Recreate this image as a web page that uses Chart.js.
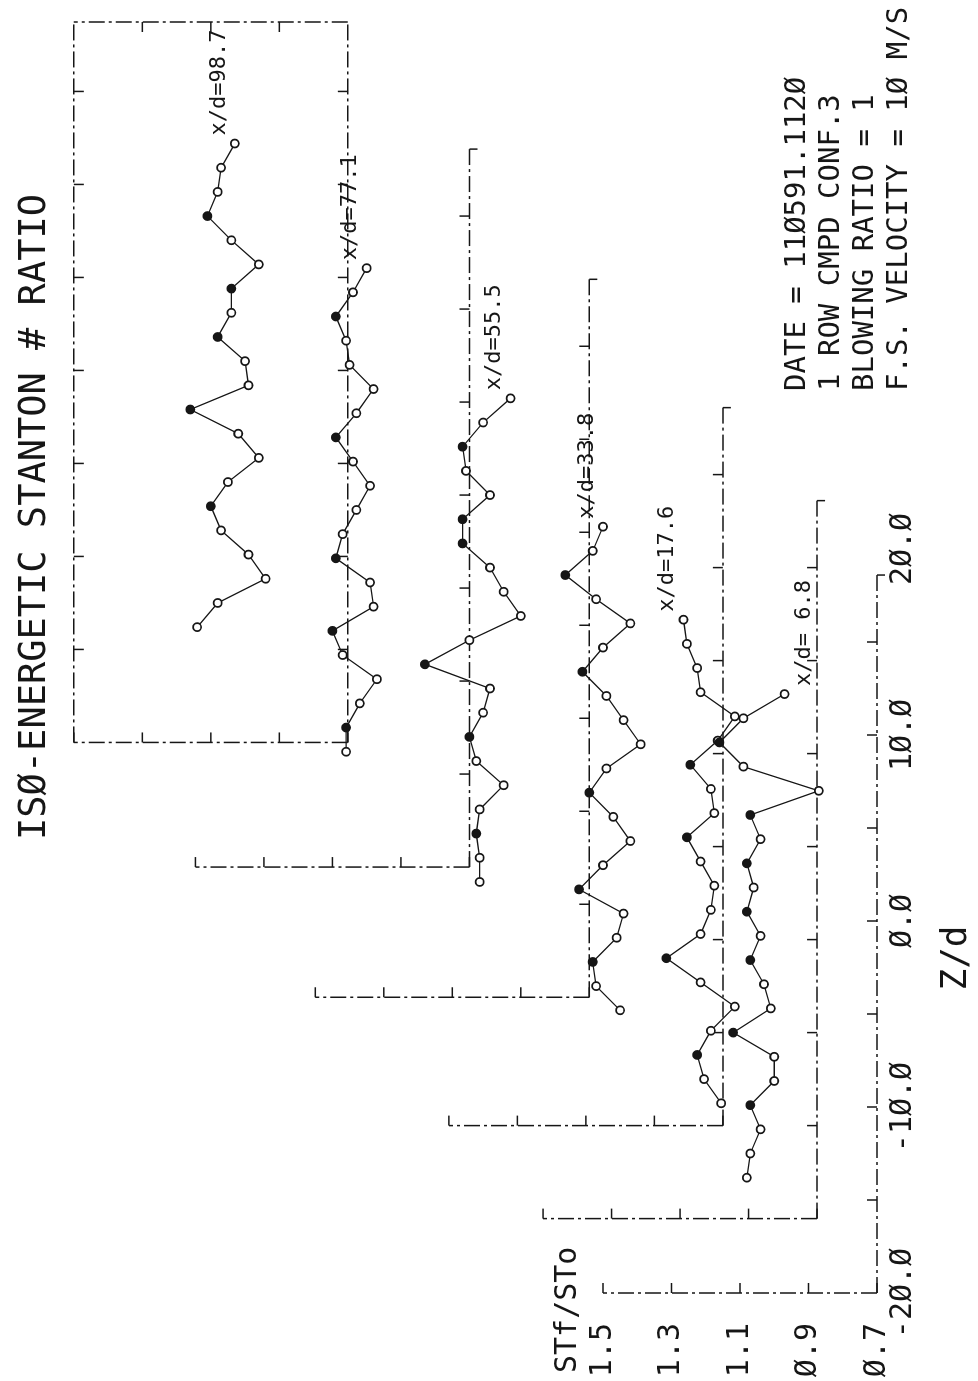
<!DOCTYPE html>
<html>
<head>
<meta charset="utf-8">
<title>Iso-energetic Stanton number ratio</title>
<script src="https://cdn.jsdelivr.net/npm/chart.js@4.4.1/dist/chart.umd.min.js"></script>
<style>
    html, body { margin: 0; padding: 0; background: #fff; }
    #page { position: relative; width: 978px; height: 1381px; overflow: hidden; }
    /* the plot is drawn the normal way and turned a quarter turn, like the plotter sheet */
    #rot { position: absolute; left: 0; top: 0; width: 1381px; height: 978px;
           transform-origin: 0 0; transform: translate(0, 1381px) rotate(-90deg); }
</style>
</head>
<body>
<div id="page"><div id="rot"><canvas id="chart" width="1381" height="978"></canvas></div></div>
<script>
// spanwise stations, Z/d (same for every x/d station)
const Z_D = [-13.8, -12.5, -11.2, -9.9, -8.6, -7.3, -6.0, -4.7, -3.4, -2.1, -0.8,
             0.5, 1.8, 3.1, 4.4, 5.7, 7.0, 8.3, 9.6, 10.9, 12.2];

const XD_LABELS = ["x/d= 6.8", "x/d=17.6", "x/d=33.8", "x/d=55.5", "x/d=77.1", "x/d=98.7"];

// STf/STo at each Z/d
const ST_6_8  = [1.08, 1.07, 1.04, 1.07, 1.00, 1.00, 1.12, 1.01, 1.03, 1.07, 1.04,
                 1.08, 1.06, 1.08, 1.04, 1.07, 0.87, 1.09, 1.16, 1.09, 0.97];
const ST_17_6 = [0.98, 1.03, 1.05, 1.01, 0.94, 1.04, 1.14, 1.04, 1.01, 1.00, 1.04,
                 1.08, 1.00, 1.01, 1.07, 0.99, 0.94, 1.04, 1.05, 1.08, 1.09];
const ST_33_8 = [1.00, 1.07, 1.08, 1.01, 0.99, 1.12, 1.05, 0.97, 1.02, 1.09, 1.04,
                 0.94, 0.99, 1.04, 1.11, 1.05, 0.97, 1.07, 1.16, 1.08, 1.05];
const ST_55_5 = [1.02, 1.02, 1.03, 1.02, 0.95, 1.03, 1.05, 1.01, 0.99, 1.18, 1.05,
                 0.90, 0.95, 0.99, 1.07, 1.07, 0.99, 1.06, 1.07, 1.01, 0.93];
const ST_77_1 = [1.06, 1.06, 1.02, 0.97, 1.07, 1.10, 0.98, 0.99, 1.09, 1.07, 1.03,
                 0.99, 1.04, 1.09, 1.03, 0.98, 1.05, 1.06, 1.09, 1.04, 1.00];
const ST_98_7 = [1.14, 1.08, 0.94, 0.99, 1.07, 1.10, 1.05, 0.96, 1.02, 1.16, 0.99,
                 1.00, 1.08, 1.04, 1.04, 0.96, 1.04, 1.11, 1.08, 1.07, 1.03];

const Z_TICKS = [-20, -10, 0, 10, 20];
const ST_TICKS = [0.7, 0.9, 1.1, 1.3, 1.5];

const TITLE = "ISØ-ENERGETIC STANTON # RATIO";
const INFO_LINES = ["DATE = 11Ø591.112Ø", "1 ROW CMPD CONF.3", "BLOWING RATIO = 1", "F.S. VELOCITY = 1Ø M/S"];

// layout: how far each station's axes are shifted (waterfall), in axis units
const SHIFT_Z = [0, 4.0, 9.0, 15.9, 22.9, 29.6];
const SHIFT_S = [0, 0.175, 0.45, 0.84, 1.19, 1.545];
const LABEL_BELOW = [true, false, false, false, false, false];
const FRAME_Z_END = 18.6;   // where each Z/d axis line stops

const W = 1381, H = 978, LEFT = 88, BOTTOM = 877;
const PX_Z = 18.6, PX_S = 342.5;
const FONT = '"DejaVu Sans Mono", monospace';
const INK = "#161616";

function slashZero(s) { return s.replace(/0/g, "Ø"); }

function isPeak(arr, i) {
    if (i <= 0 || i >= arr.length - 1) return false;
    return arr[i] >= arr[i - 1] && arr[i] >= arr[i + 1];
}

const series = [ST_6_8, ST_17_6, ST_33_8, ST_55_5, ST_77_1, ST_98_7];

const datasets = series.map((st, k) => ({
    label: XD_LABELS[k],
    data: Z_D.map((z, i) => ({ x: z + SHIFT_Z[k], y: st[i] + SHIFT_S[k] })),
    borderColor: INK,
    borderWidth: 1.3,
    tension: 0,
    pointRadius: 4,
    pointBorderWidth: 1.8,
    pointBorderColor: INK,
    pointBackgroundColor: (c) => isPeak(st, c.dataIndex) ? INK : "#fff"
}));

function seg(ctx, x1, y1, x2, y2) {
    ctx.beginPath();
    ctx.moveTo(x1, y1);
    ctx.lineTo(x2, y2);
    ctx.stroke();
}

// the staggered axis frames, one per station
const framePlugin = {
    id: "frames",
    beforeDatasetsDraw(chart) {
        const ctx = chart.ctx, x = chart.scales.x, y = chart.scales.y;
        const last = SHIFT_Z.length - 1;
        const xr = W - 22; // top edge of the closing box
        ctx.save();
        ctx.strokeStyle = INK;
        ctx.lineWidth = 1.5;
        SHIFT_Z.forEach((dz, k) => {
            const ds = SHIFT_S[k];
            const x0 = x.getPixelForValue(-20 + dz);
            let x1 = x.getPixelForValue(FRAME_Z_END + dz);
            if (k === last) x1 = Math.min(x1, xr);
            const y0 = y.getPixelForValue(0.7 + ds), y1 = y.getPixelForValue(1.5 + ds);
            ctx.setLineDash([16, 4, 3, 4]);
            seg(ctx, x0, y0, x0, y1);
            seg(ctx, x0, y0, x1, y0);
            ctx.setLineDash([]);
            ST_TICKS.forEach(s => {
                const py = y.getPixelForValue(s + ds);
                seg(ctx, x0, py, x0 + 10, py);
            });
            for (let z = -15; z < FRAME_Z_END; z += 5) {
                const px = x.getPixelForValue(z + dz);
                if (px <= x1) seg(ctx, px, y0, px, y0 - 10);
            }
            if (k !== last) seg(ctx, x1, y0, x1, y0 + 8);
        });
        // closing box of the last (farthest) station
        const xl = x.getPixelForValue(-20 + SHIFT_Z[last]);
        const ylo = y.getPixelForValue(0.7 + SHIFT_S[last]), yhi = y.getPixelForValue(1.5 + SHIFT_S[last]);
        ctx.setLineDash([16, 4, 3, 4]);
        seg(ctx, xl, yhi, xr, yhi);
        seg(ctx, xr, ylo, xr, yhi);
        ctx.setLineDash([]);
        [0.9, 1.1, 1.3].forEach(s => {
            const py = y.getPixelForValue(s + SHIFT_S[last]);
            seg(ctx, xr, py, xr - 10, py);
        });
        for (let z = -15; z <= 15; z += 5) {
            const px = x.getPixelForValue(z + SHIFT_Z[last]);
            seg(ctx, px, yhi, px, yhi + 10);
        }
        ctx.restore();
    },
    afterDraw(chart) {
        const ctx = chart.ctx, x = chart.scales.x, y = chart.scales.y;
        ctx.save();
        ctx.fillStyle = INK;
        ctx.textBaseline = "middle";
        ctx.textAlign = "left";

        ctx.font = "37px " + FONT;
        ctx.fillText(TITLE, 541, 35);

        ctx.font = "29px " + FONT;
        const infoY = [797, 831, 865, 899];
        INFO_LINES.forEach((t, i) => ctx.fillText(t, 990, infoY[i]));

        ctx.font = "30px " + FONT;
        ctx.fillText("STf/STo", 8, 568);

        ctx.textAlign = "center";
        ctx.font = "36px " + FONT;
        ctx.fillText("Z/d", 423, 957);

        ctx.textAlign = "left";
        ctx.font = "22px " + FONT;
        series.forEach((st, k) => {
            const n = st.length - 1;
            const px = x.getPixelForValue(Z_D[n] + SHIFT_Z[k]);
            const py = y.getPixelForValue(st[n] + SHIFT_S[k]);
            ctx.fillText(XD_LABELS[k], px + 8, py + (LABEL_BELOW[k] ? 20 : -16));
        });
        ctx.restore();
    }
};

new Chart(document.getElementById("chart"), {
    type: "line",
    data: { datasets: datasets },
    options: {
        responsive: false,
        animation: false,
        devicePixelRatio: 1,
        layout: { padding: 0, autoPadding: false },
        plugins: { legend: { display: false }, tooltip: { enabled: false } },
        scales: {
            x: {
                type: "linear",
                position: "bottom",
                min: -20,
                max: -20 + (W - LEFT) / PX_Z,
                grid: { display: false, drawTicks: false },
                border: { display: false },
                afterBuildTicks: (s) => { s.ticks = Z_TICKS.map(v => ({ value: v })); },
                afterFit: (s) => {
                    s.height = H - BOTTOM;
                    s.paddingLeft = 0; s.paddingRight = 0; s.paddingTop = 0; s.paddingBottom = 0;
                },
                ticks: {
                    autoSkip: false, maxRotation: 0, padding: 8, color: INK,
                    font: { family: "DejaVu Sans Mono", size: 30 },
                    callback: (v) => slashZero(Number(v).toFixed(1))
                }
            },
            y: {
                type: "linear",
                position: "left",
                min: 0.7,
                max: 0.7 + BOTTOM / PX_S,
                grid: { display: false, drawTicks: false },
                border: { display: false },
                afterBuildTicks: (s) => { s.ticks = ST_TICKS.map(v => ({ value: v })); },
                afterFit: (s) => {
                    s.width = LEFT;
                    s.paddingLeft = 0; s.paddingRight = 0; s.paddingTop = 0; s.paddingBottom = 0;
                },
                ticks: {
                    autoSkip: false, padding: 30, color: INK,
                    font: { family: "DejaVu Sans Mono", size: 30 },
                    callback: (v) => slashZero(Number(v).toFixed(1))
                }
            }
        }
    },
    plugins: [framePlugin]
});
</script>
</body>
</html>
